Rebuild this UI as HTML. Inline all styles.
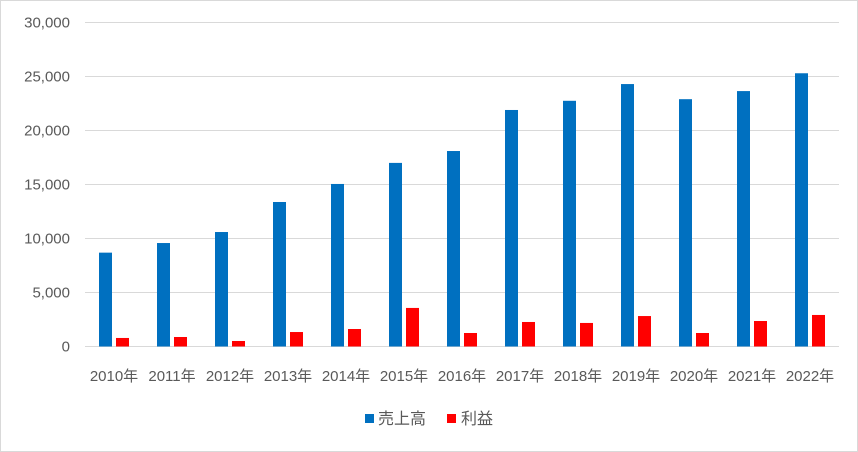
<!DOCTYPE html>
<html><head><meta charset="utf-8"><style>
html,body{margin:0;padding:0;background:#fff}
svg{display:block;font-family:"Liberation Sans","Noto Sans CJK JP",sans-serif}
</style></head><body>
<svg id="chart" width="858" height="452">
<rect x="0.5" y="0.5" width="857" height="451" fill="#fff" stroke="#d9d9d9"/>
<g id="grid"></g>
<g id="ylabels"></g>
<g id="bars"></g>
<g id="xlabels"></g>
<g>
<g>
<rect x="365" y="414" width="9" height="9" fill="#0070c0"/>
<text x="378" y="424" font-size="16" fill="#595959">売上高</text></g>
<g>
<rect x="447" y="414" width="9" height="9" fill="#ff0000"/>
<text x="461" y="424" font-size="16" fill="#595959">利益</text></g>
</g>
</svg>
<script>
const categories=["2010年","2011年","2012年","2013年","2014年","2015年","2016年","2017年","2018年","2019年","2020年","2021年","2022年"];
const sales=[8690,9580,10600,13380,15050,17000,18100,21900,22750,24300,22900,23650,25300];
const profit=[790,880,510,1340,1620,3570,1250,2270,2180,2820,1250,2360,2920];
const yTicks=[0,5000,10000,15000,20000,25000,30000];
const NS="http://www.w3.org/2000/svg";
const x0=85,step=58,y0=346.5,yMax=30000,yTop=22.5;
function y(v){return y0-(v/yMax)*(y0-yTop);}
function cx(i){return x0+step*i+step/2;}
function mk(tag,attrs,parent){const e=document.createElementNS(NS,tag);for(const k in attrs)e.setAttribute(k,attrs[k]);parent.appendChild(e);return e;}
const grid=document.getElementById('grid'),yl=document.getElementById('ylabels'),bars=document.getElementById('bars'),xl=document.getElementById('xlabels');
yTicks.forEach(t=>{
 const l=mk('line',{x1:x0,x2:x0+step*categories.length,y1:y(t),y2:y(t),stroke:'#d9d9d9','stroke-width':1},grid);
 
 
 const tx=mk('text',{x:70,y:y(t)+5,'text-anchor':'end','font-size':15,fill:'#595959'},yl);
 tx.textContent=t.toLocaleString('en-US');
 
 
});
categories.forEach((c,i)=>{
 const c0=cx(i);
 const b=mk('rect',{x:c0-15,y:y(sales[i]),width:13,height:y0-y(sales[i]),fill:'#0070c0'},bars);
 
 
 const r=mk('rect',{x:c0+2,y:y(profit[i]),width:13,height:y0-y(profit[i]),fill:'#ff0000'},bars);
 
 
 const t=mk('text',{x:c0,y:381,'text-anchor':'middle','font-size':15,fill:'#595959'},xl);
 t.textContent=c;
 
 
});
</script>
</body></html>
